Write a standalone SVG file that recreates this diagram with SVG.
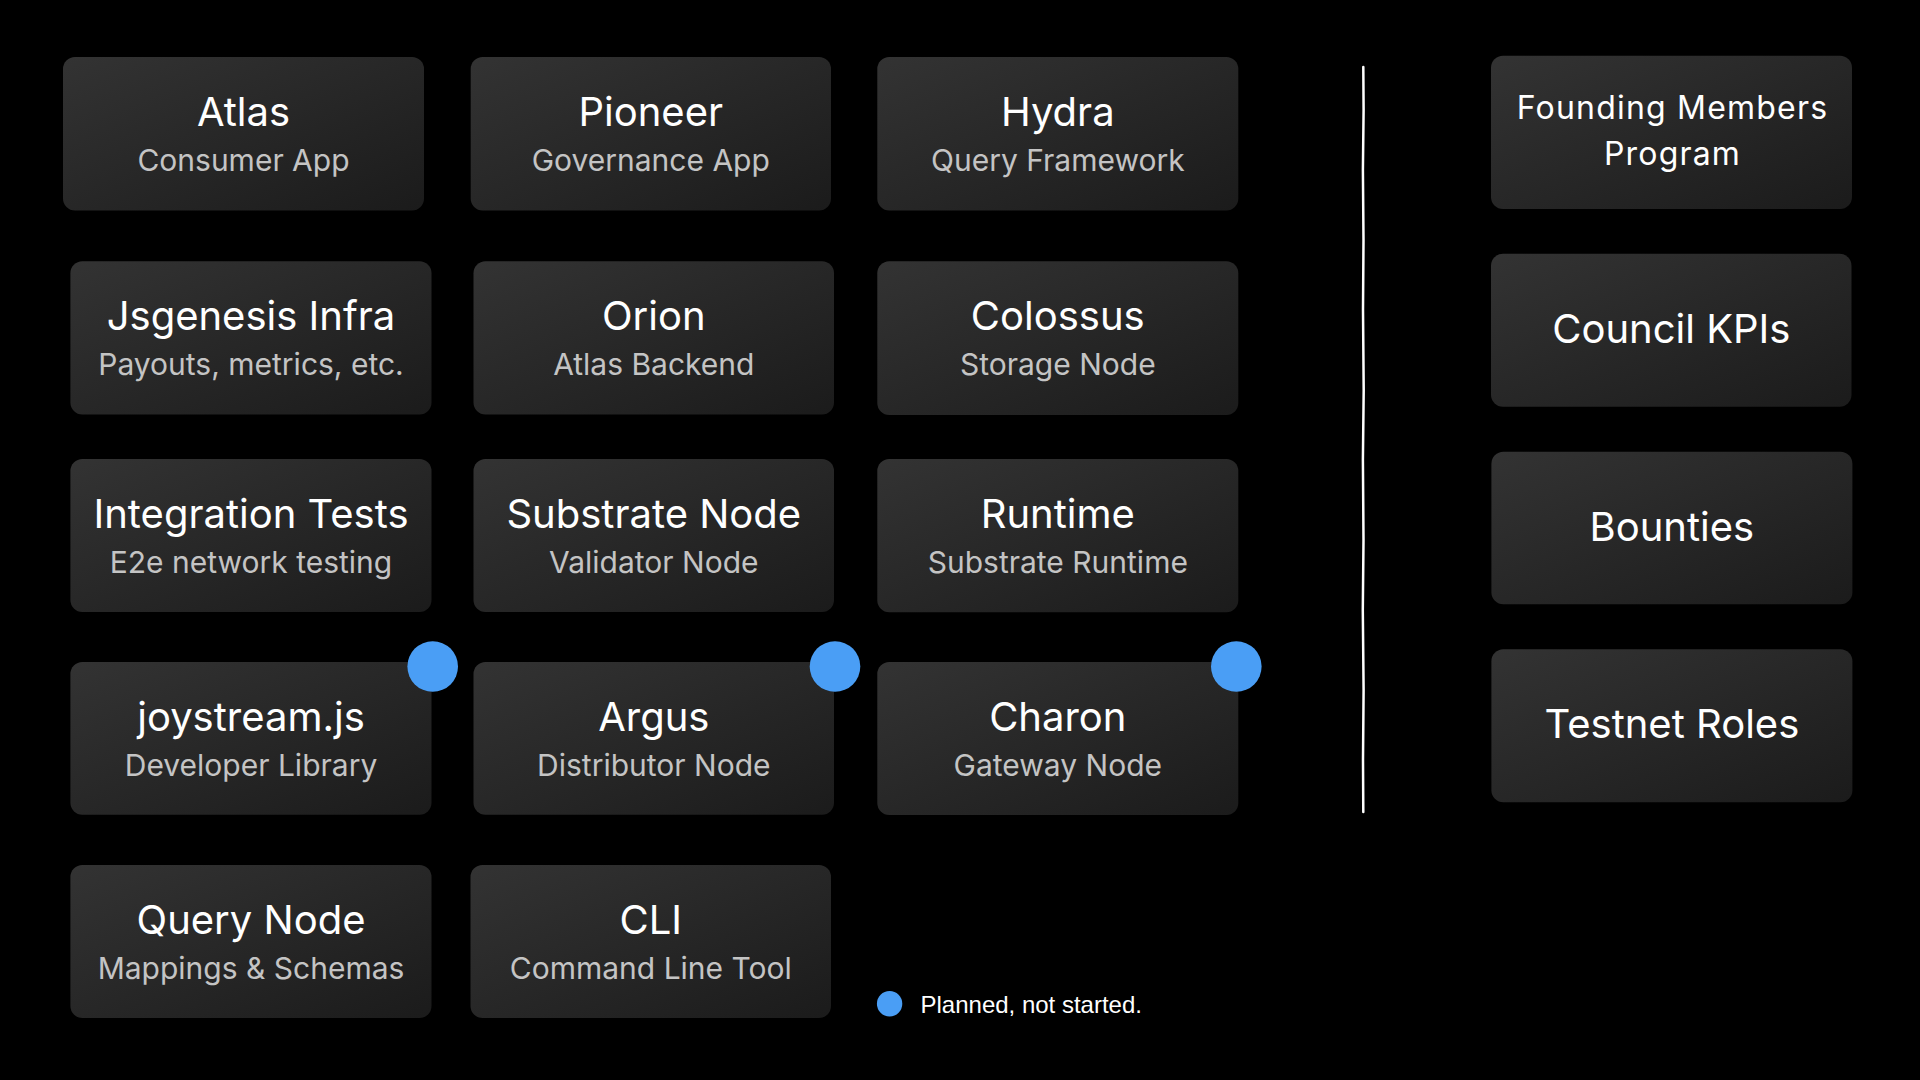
<svg xmlns="http://www.w3.org/2000/svg" width="1920" height="1080" viewBox="0 0 1920 1080">
  <defs>
    <linearGradient id="boxg" x1="0" y1="0" x2="1" y2="1">
      <stop offset="0" stop-color="#333333"/>
      <stop offset="1" stop-color="#1b1b1b"/>
    </linearGradient>
  </defs>
  <style>
    .box { fill: url(#boxg); }
    .t { font-family: Inter, "Liberation Sans", sans-serif; font-size: 40px; fill: #ffffff; text-anchor: middle; font-weight: 400; }
    .s { font-family: Inter, "Liberation Sans", sans-serif; font-size: 30px; fill: #c4c4c4; text-anchor: middle; }
    .f { font-family: Inter, "Liberation Sans", sans-serif; font-size: 32px; fill: #ffffff; text-anchor: middle; letter-spacing: 1.2px; }
    .dot { fill: #4a9ef5; }
    .legend { font-family: "Liberation Sans", Arial, sans-serif; font-size: 24px; fill: #ffffff; }
    .divider { fill: none; stroke: #ffffff; stroke-width: 2.5; stroke-linecap: round; stroke-linejoin: round; }
  </style>
  <rect x="0" y="0" width="1920" height="1080" fill="#000000"/>

  <!-- Row 1 -->
  <g id="atlas">
    <rect class="box" x="63" y="57" width="361" height="153.5" rx="12"/>
    <text class="t" x="243.5" y="126">Atlas</text>
    <text class="s" x="243.5" y="170.5">Consumer App</text>
  </g>
  <g id="pioneer">
    <rect class="box" x="470.7" y="57" width="360.3" height="153.5" rx="12"/>
    <text class="t" x="650.8" y="126">Pioneer</text>
    <text class="s" x="650.8" y="170.5">Governance App</text>
  </g>
  <g id="hydra">
    <rect class="box" x="877.3" y="57" width="361" height="153.5" rx="12"/>
    <text class="t" x="1057.8" y="126">Hydra</text>
    <text class="s" x="1057.8" y="170.5">Query Framework</text>
  </g>

  <!-- Row 2 -->
  <g id="jsgenesis">
    <rect class="box" x="70.4" y="261.3" width="361.1" height="153.2" rx="12"/>
    <text class="t" x="251" y="330.3">Jsgenesis Infra</text>
    <text class="s" x="251" y="374.8">Payouts, metrics, etc.</text>
  </g>
  <g id="orion">
    <rect class="box" x="473.5" y="261.3" width="360.5" height="153.2" rx="12"/>
    <text class="t" x="653.8" y="330.3">Orion</text>
    <text class="s" x="653.8" y="374.8">Atlas Backend</text>
  </g>
  <g id="colossus">
    <rect class="box" x="877.3" y="261.3" width="361" height="153.7" rx="12"/>
    <text class="t" x="1057.8" y="330.3">Colossus</text>
    <text class="s" x="1057.8" y="374.8">Storage Node</text>
  </g>

  <!-- Row 3 -->
  <g id="integration-tests">
    <rect class="box" x="70.4" y="459" width="361.1" height="153" rx="12"/>
    <text class="t" x="251" y="528">Integration Tests</text>
    <text class="s" x="251" y="572.5">E2e network testing</text>
  </g>
  <g id="substrate-node">
    <rect class="box" x="473.5" y="459" width="360.5" height="153" rx="12"/>
    <text class="t" x="653.8" y="528">Substrate Node</text>
    <text class="s" x="653.8" y="572.5">Validator Node</text>
  </g>
  <g id="runtime">
    <rect class="box" x="877.3" y="459" width="361" height="153.3" rx="12"/>
    <text class="t" x="1057.8" y="528">Runtime</text>
    <text class="s" x="1057.8" y="572.5">Substrate Runtime</text>
  </g>

  <!-- Row 4 -->
  <g id="joystream-js">
    <rect class="box" x="70.4" y="662" width="361.1" height="152.8" rx="12"/>
    <text class="t" x="251" y="731">joystream.js</text>
    <text class="s" x="251" y="775.5">Developer Library</text>
    <circle class="dot" cx="432.7" cy="666.5" r="25.3"/>
  </g>
  <g id="argus">
    <rect class="box" x="473.5" y="662" width="360.5" height="152.8" rx="12"/>
    <text class="t" x="653.8" y="731">Argus</text>
    <text class="s" x="653.8" y="775.5">Distributor Node</text>
    <circle class="dot" cx="835" cy="666.5" r="25.3"/>
  </g>
  <g id="charon">
    <rect class="box" x="877.3" y="662" width="361" height="153" rx="12"/>
    <text class="t" x="1057.8" y="731">Charon</text>
    <text class="s" x="1057.8" y="775.5">Gateway Node</text>
    <circle class="dot" cx="1236.3" cy="666.5" r="25.3"/>
  </g>

  <!-- Row 5 -->
  <g id="query-node">
    <rect class="box" x="70.4" y="865" width="361.1" height="153" rx="12"/>
    <text class="t" x="251" y="934">Query Node</text>
    <text class="s" x="251" y="978.5">Mappings &amp; Schemas</text>
  </g>
  <g id="cli">
    <rect class="box" x="470.5" y="865" width="360.5" height="153" rx="12"/>
    <text class="t" x="650.8" y="934">CLI</text>
    <text class="s" x="650.8" y="978.5">Command Line Tool</text>
  </g>

  <!-- Right column -->
  <g id="founding-members">
    <rect class="box" x="1491" y="55.7" width="361" height="153.3" rx="12"/>
    <text class="f" x="1672.5" y="119.3">Founding Members</text>
    <text class="f" x="1672.5" y="165">Program</text>
  </g>
  <g id="council-kpis">
    <rect class="box" x="1491" y="253.7" width="360.5" height="153" rx="12"/>
    <text class="t" x="1671.3" y="342.7">Council KPIs</text>
  </g>
  <g id="bounties">
    <rect class="box" x="1491.4" y="451.7" width="361" height="152.6" rx="12"/>
    <text class="t" x="1671.9" y="540.7">Bounties</text>
  </g>
  <g id="testnet-roles">
    <rect class="box" x="1491.4" y="649.3" width="361" height="153" rx="12"/>
    <text class="t" x="1671.9" y="738.3">Testnet Roles</text>
  </g>

  <!-- Connectors / divider -->
  <g id="connectors">
    <path class="divider" d="M1363.3 67 L1363.6 110 L1362.9 170 L1363.5 240 L1363.0 310 L1363.7 390 L1362.9 460 L1363.5 540 L1362.8 610 L1363.6 690 L1363.0 760 L1363.3 812"/>
  </g>

  <!-- Legend -->
  <g id="legend">
    <circle class="dot" cx="889.6" cy="1003.7" r="12.7"/>
    <text class="legend" x="920.5" y="1013">Planned, not started.</text>
  </g>
</svg>
